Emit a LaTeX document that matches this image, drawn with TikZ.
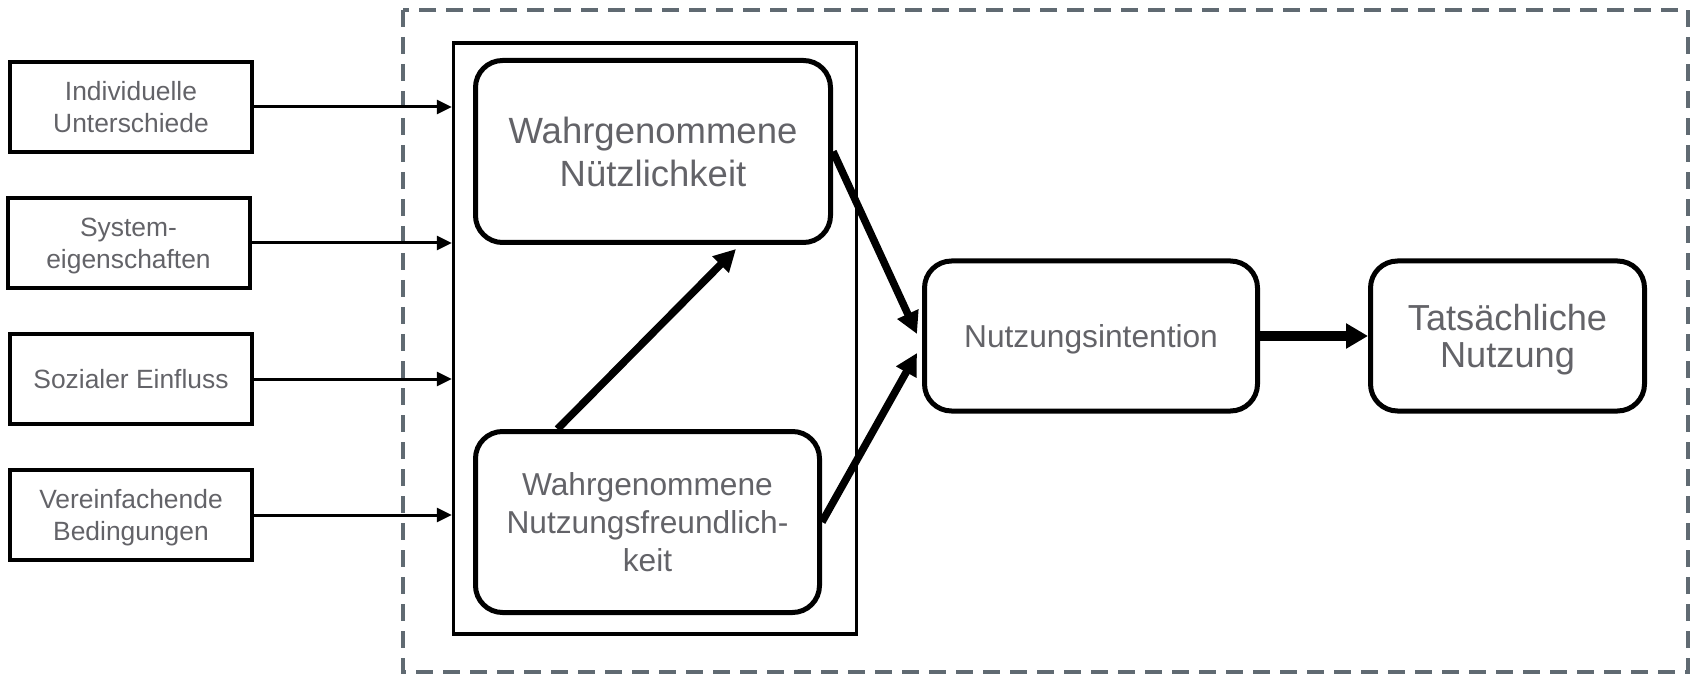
\documentclass[tikz,border=0pt]{standalone}
\usepackage{fontspec}
\setmainfont{Liberation Sans}
\usetikzlibrary{arrows.meta}
\definecolor{txtgray}{RGB}{99,99,104}
\definecolor{framegray}{RGB}{96,106,114}
\tikzset{
  factor/.style={draw, line width=4pt, text=txtgray, align=center, inner sep=0pt,
    text depth=0pt, minimum width=242pt, minimum height=90pt,
    font=\fontsize{26.4}{32}\selectfont},
  construct/.style={draw, line width=5pt, rounded corners=27pt, text=txtgray,
    align=center, inner sep=0pt, text depth=0pt},
  frame/.style={draw=framegray, line width=4.5pt, dash pattern=on 17pt off 10pt},
  thin arrow/.style={line width=3pt, -{Triangle[length=15pt,width=14pt]}},
  thick arrow/.style={line width=7.5pt, -{Triangle[length=22pt,width=22pt]}},
  wide arrow/.style={line width=10pt, -{Triangle[length=22pt,width=24pt]}},
}
\begin{document}
\begin{tikzpicture}[x=1pt,y=-1pt]
                \useasboundingbox (0,0) rectangle (1692,676);
                \draw[frame] (403,10) rectangle (1688,672);

                \node (ind) [factor] at (131,107) {Individuelle\\Unterschiede};
                \node (sys) [factor] at (128.5,243) {System-\\eigenschaften};
                \node (soz) [factor] at (131,379) {Sozialer Einfluss};
                \node (ver) [factor] at (131,515) {Vereinfachende\\Bedingungen};

                \node (core) [draw, line width=3.5pt, minimum width=403pt, minimum height=591pt] at (655,338.5) {};
                \node (pu) [construct, minimum width=355pt, minimum height=182pt, font=\fontsize{36.5}{43}\selectfont] at (653,151.5) {Wahrgenommene\\Nützlichkeit};
                \node (peou) [construct, minimum width=344pt, minimum height=181pt, font=\fontsize{31.7}{38}\selectfont] at (647.5,522) {Wahrgenommene\\Nutzungsfreundlich-\\keit};
                \node (ni) [construct, minimum width=333pt, minimum height=150pt, font=\fontsize{31.7}{38}\selectfont] at (1091,336) {Nutzungsintention};
                \node (tn) [construct, minimum width=274pt, minimum height=150pt, font=\fontsize{36.2}{37}\selectfont] at (1507.5,336) {Tatsächliche\\Nutzung};

                \draw[thin arrow] (ind.east) -- (ind.east -| core.west);
                \draw[thin arrow] (sys.east) -- (sys.east -| core.west);
                \draw[thin arrow] (soz.east) -- (soz.east -| core.west);
                \draw[thin arrow] (ver.east) -- (ver.east -| core.west);

                \draw[thick arrow] ([xshift=-90pt]peou.north) -- ([xshift=83pt,yshift=-4pt]pu.south);
                \draw[thick arrow] (pu.east) -- ([xshift=-5pt,yshift=2pt]ni.west);
                \draw[thick arrow] (peou.east) -- ([xshift=-5pt,yshift=-17pt]ni.west);
                \draw[wide arrow] (ni.east) -- (tn.west);
            \end{tikzpicture}
\end{document}
